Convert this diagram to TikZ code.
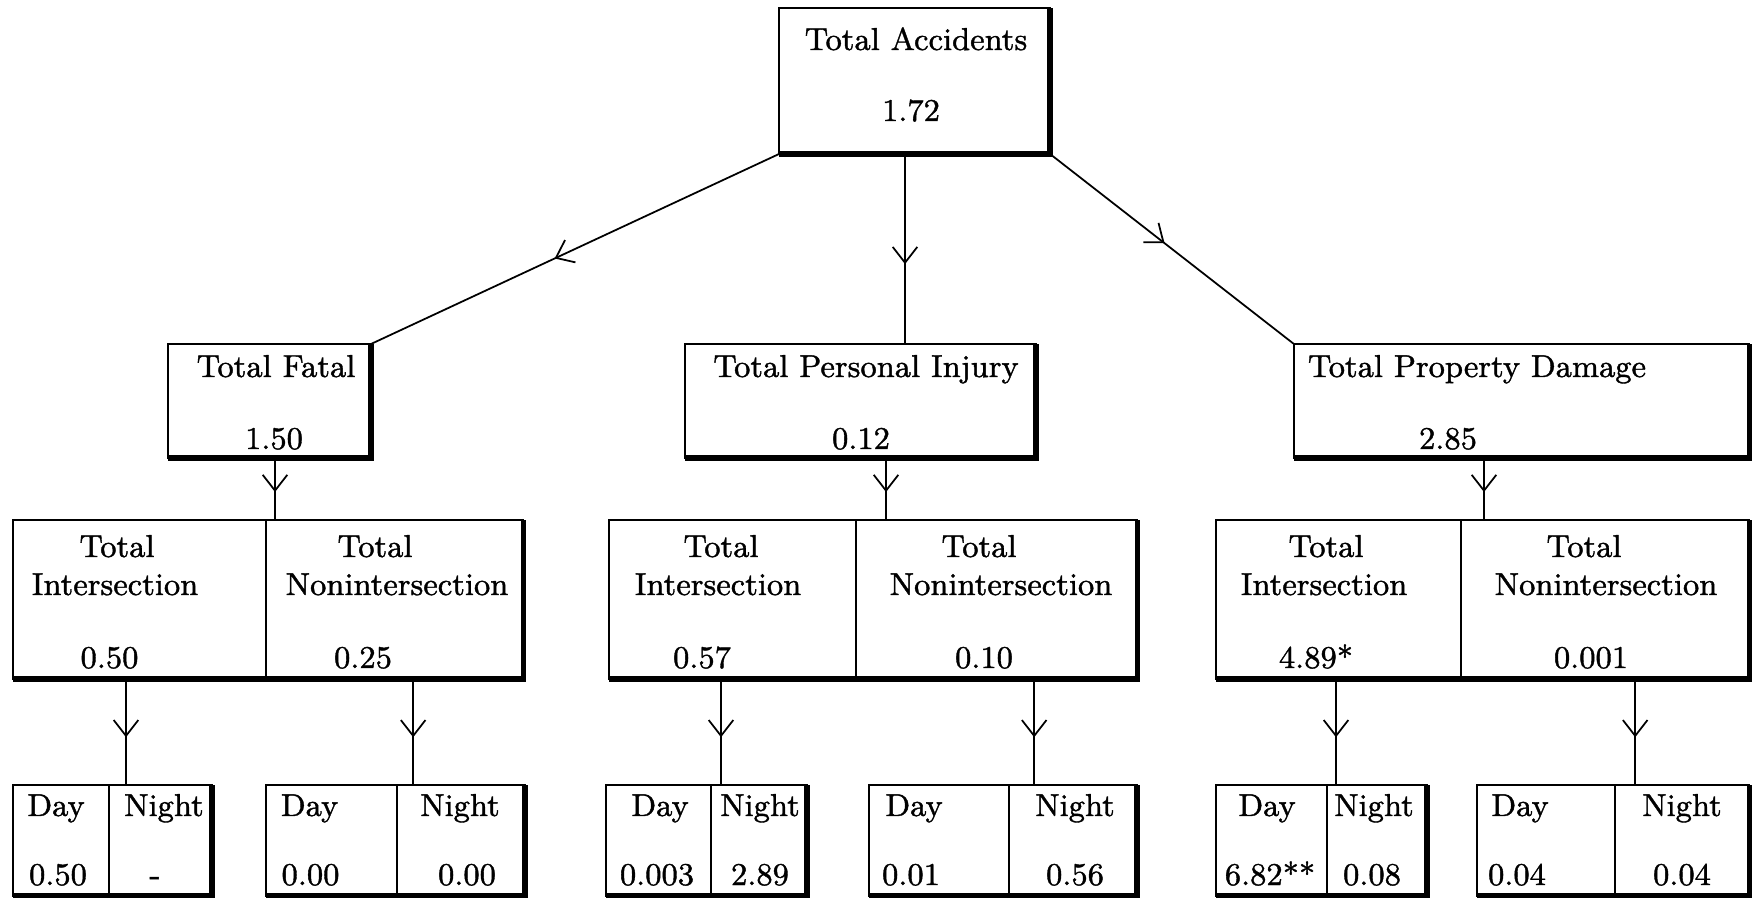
\documentclass[tikz,border=0pt]{standalone}
\usepackage{fontspec}
\newfontfamily\typed{Latin Modern Roman}[FakeBold=1.2]
\usetikzlibrary{positioning}
\usetikzlibrary{arrows.meta}
\usetikzlibrary{decorations.markings}

\tikzset{
  box/.style={draw, rectangle, line width=0.6pt, inner sep=0pt, outer sep=0pt},
  txt/.style={anchor=base, inner sep=0pt, font=\typed\fontsize{9}{11}\selectfont},
  rim/.style={line width=1.5pt},
  flow/.style={line width=0.5pt, postaction={decorate},
    decoration={markings, mark=at position #1 with {\arrow{Straight Barb[length=4.5pt,width=7pt]}}}},
  flow/.default=0.55
}

\begin{document}
\begin{tikzpicture}[x=0.01cm, y=-0.01cm]
\useasboundingbox (0,0) rectangle (1752,898);
% top
\node[box, minimum width=2.71cm, minimum height=1.46cm](acc) at (914.5,81){};
\node[txt](acc-t) at (916,50){Total Accidents};
\node[txt](acc-v) at (911,121){1.72};
% second row
\node[box, minimum width=2.03cm, minimum height=1.14cm](fatal) at (269.5,401){};
\node[txt](fatal-t) at (276,377){Total Fatal};
\node[txt](fatal-v) at (274,449){1.50};
\node[box, minimum width=3.51cm, minimum height=1.14cm](inj) at (860.5,401){};
\node[txt](inj-t) at (866,377){Total Personal Injury};
\node[txt](inj-v) at (861,449){0.12};
\node[box, minimum width=4.55cm, minimum height=1.14cm](prop) at (1521.5,401){};
\node[txt](prop-t) at (1477,377){Total Property Damage};
\node[txt](prop-v) at (1448,449){2.85};
\draw[flow=0.55](acc.south west)--(fatal.north east);
\draw[flow=0.58]([xshift=-0.095cm]acc.south)--([xshift=-0.095cm]acc.south |- inj.north);
\draw[flow=0.47](acc.south east)--(prop.north west);
% third row
\node[box, minimum width=2.53cm, minimum height=1.59cm](fI) at (139.5,599.5){};
\node[box, minimum width=2.57cm, minimum height=1.59cm](fN)[right=0pt of fI]{};
\node[box, minimum width=2.47cm, minimum height=1.59cm](iI) at (732.5,599.5){};
\node[box, minimum width=2.81cm, minimum height=1.59cm](iN)[right=0pt of iI]{};
\node[box, minimum width=2.45cm, minimum height=1.59cm](pI) at (1338.5,599.5){};
\node[box, minimum width=2.88cm, minimum height=1.59cm](pN)[right=0pt of pI]{};
\node[txt](fI-a) at (117,557){Total};
\node[txt](fI-b) at (115,595){Intersection};
\node[txt](fI-v) at (109.5,668){0.50};
\node[txt](fN-a) at (375,557){Total};
\node[txt](fN-b) at (397,595){Nonintersection};
\node[txt](fN-v) at (363,668){0.25};
\node[txt](iI-a) at (721,557){Total};
\node[txt](iI-b) at (718,595){Intersection};
\node[txt](iI-v) at (702,668){0.57};
\node[txt](iN-a) at (979,557){Total};
\node[txt](iN-b) at (1001,595){Nonintersection};
\node[txt](iN-v) at (984,668){0.10};
\node[txt](pI-a) at (1326,557){Total};
\node[txt](pI-b) at (1324,595){Intersection};
\node[txt](pI-v) at (1316,668){4.89*};
\node[txt](pN-a) at (1584,557){Total};
\node[txt](pN-b) at (1606,595){Nonintersection};
\node[txt](pN-v) at (1591,668){0.001};
\draw[flow]([xshift=0.055cm]fatal.south)--([xshift=0.055cm]fatal.south |- fI.north);
\draw[flow]([xshift=0.255cm]inj.south)--([xshift=0.255cm]inj.south |- iI.north);
\draw[flow]([xshift=-0.375cm]prop.south)--([xshift=-0.375cm]prop.south |- pI.north);
% day / night
\node[box, minimum width=0.96cm, minimum height=1.11cm](fid) at (61,840.5){};
\node[box, minimum width=1.03cm, minimum height=1.11cm](fin)[right=0pt of fid]{};
\node[box, minimum width=1.31cm, minimum height=1.11cm](fnd) at (331.5,840.5){};
\node[box, minimum width=1.28cm, minimum height=1.11cm](fnn)[right=0pt of fnd]{};
\node[box, minimum width=1.05cm, minimum height=1.11cm](iid) at (658.5,840.5){};
\node[box, minimum width=0.96cm, minimum height=1.11cm](iin)[right=0pt of iid]{};
\node[box, minimum width=1.40cm, minimum height=1.11cm](ind) at (939,840.5){};
\node[box, minimum width=1.28cm, minimum height=1.11cm](inn)[right=0pt of ind]{};
\node[box, minimum width=1.11cm, minimum height=1.11cm](pid) at (1271.5,840.5){};
\node[box, minimum width=1.00cm, minimum height=1.11cm](pin)[right=0pt of pid]{};
\node[box, minimum width=1.38cm, minimum height=1.11cm](pnd) at (1546,840.5){};
\node[box, minimum width=1.34cm, minimum height=1.11cm](pnn)[right=0pt of pnd]{};
\node[txt](fid-t) at (56,816){Day};
\node[txt](fid-v) at (58,885){0.50};
\node[txt](fin-t) at (164,816){Night};
\node[txt](fin-v) at (155,885){-};
\node[txt](fnd-t) at (309.5,816){Day};
\node[txt](fnd-v) at (310.5,885){0.00};
\node[txt](fnn-t) at (460,816){Night};
\node[txt](fnn-v) at (467,885){0.00};
\node[txt](iid-t) at (660,816){Day};
\node[txt](iid-v) at (657,885){0.003};
\node[txt](iin-t) at (760,816){Night};
\node[txt](iin-v) at (760,885){2.89};
\node[txt](ind-t) at (914,816){Day};
\node[txt](ind-v) at (911,885){0.01};
\node[txt](inn-t) at (1075,816){Night};
\node[txt](inn-v) at (1075,885){0.56};
\node[txt](pid-t) at (1267,816){Day};
\node[txt](pid-v) at (1270,885){6.82**};
\node[txt](pin-t) at (1374,816){Night};
\node[txt](pin-v) at (1372,885){0.08};
\node[txt](pnd-t) at (1520,816){Day};
\node[txt](pnd-v) at (1517,885){0.04};
\node[txt](pnn-t) at (1682,816){Night};
\node[txt](pnn-v) at (1682,885){0.04};
\draw[flow]([xshift=-0.135cm]fI.south)--([xshift=-0.135cm]fI.south |- fid.north);
\draw[flow]([xshift=0.185cm]fN.south)--([xshift=0.185cm]fN.south |- fnd.north);
\draw[flow]([xshift=-0.115cm]iI.south)--([xshift=-0.115cm]iI.south |- iid.north);
\draw[flow]([xshift=0.375cm]iN.south)--([xshift=0.375cm]iN.south |- ind.north);
\draw[flow]([xshift=-0.025cm]pI.south)--([xshift=-0.025cm]pI.south |- pid.north);
\draw[flow]([xshift=0.30cm]pN.south)--([xshift=0.30cm]pN.south |- pnd.north);
% heavy bottom and right edges
\draw[rim](acc.south west)-|(acc.north east);
\draw[rim](fatal.south west)-|(fatal.north east);
\draw[rim](inj.south west)-|(inj.north east);
\draw[rim](prop.south west)-|(prop.north east);
\draw[rim](fI.south west)-|(fN.north east);
\draw[rim](iI.south west)-|(iN.north east);
\draw[rim](pI.south west)-|(pN.north east);
\draw[rim](fid.south west)-|(fin.north east);
\draw[rim](fnd.south west)-|(fnn.north east);
\draw[rim](iid.south west)-|(iin.north east);
\draw[rim](ind.south west)-|(inn.north east);
\draw[rim](pid.south west)-|(pin.north east);
\draw[rim](pnd.south west)-|(pnn.north east);
\end{tikzpicture}
\end{document}
